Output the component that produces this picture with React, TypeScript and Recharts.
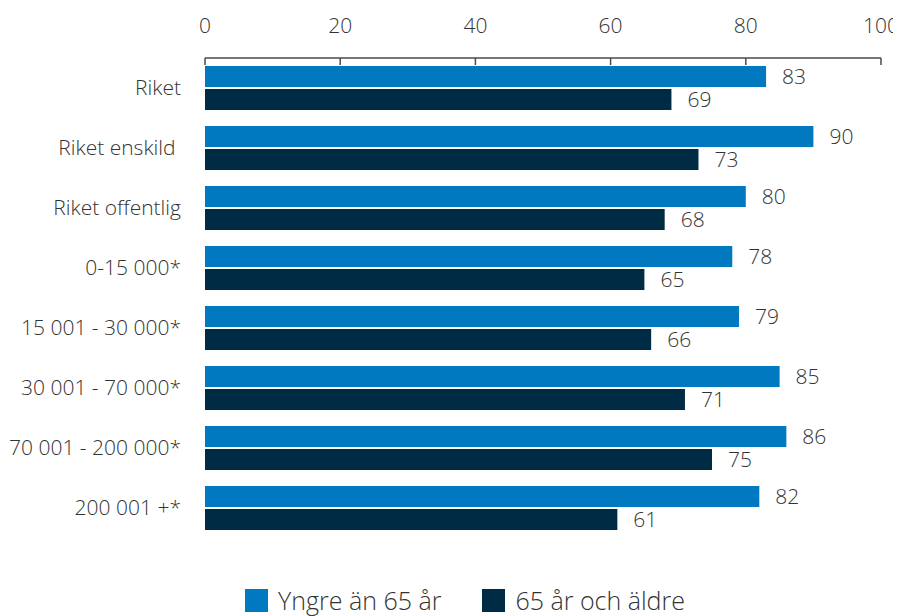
import { BarChart, Bar, XAxis, YAxis, Legend, LabelList } from 'recharts';

const categories = [
  'Riket',
  'Riket enskild\u00a0',
  'Riket offentlig',
  '0-15 000*',
  '15 001 - 30 000*',
  '30 001 - 70 000*',
  '70 001 - 200 000*',
  '200 001 +*',
];
const younger = [83, 90, 80, 78, 79, 85, 86, 82];
const older = [69, 73, 68, 65, 66, 71, 75, 61];
const xTicks = [0, 20, 40, 60, 80, 100];
const boundaryTicks = [0, 1, 2, 3, 4, 5, 6, 7, 8];

const seriesNames = ['Yngre än 65 år', '65 år och äldre'];
const BLUE = '#0079c1';
const NAVY = '#002b45';
const AXIS = '#4a4a4a';
const TEXT = '#333333';

const data = categories.map((name, i) => ({
  name,
  younger: younger[i],
  older: older[i],
}));

function LegendContent() {
  const items = [
    { label: seriesNames[0], color: BLUE },
    { label: seriesNames[1], color: NAVY },
  ];
  return (
    <div style={{ display: 'flex', height: 40, alignItems: 'flex-start', paddingTop: 3, boxSizing: 'border-box' }}>
      {items.map((it, i) => (
        <div key={it.label} style={{ display: 'flex', alignItems: 'center', marginLeft: i === 0 ? 0 : 41 }}>
          <span style={{ width: 23, height: 23, background: it.color, display: 'inline-block', marginRight: 10 }} />
          <span style={{ fontSize: 25, fontWeight: 300, color: TEXT, lineHeight: '23px' }}>{it.label}</span>
        </div>
      ))}
    </div>
  );
}

const tickStyle = { fill: TEXT, fontSize: 21, fontWeight: 300 };

export default function App() {
  return (
    <div style={{ fontFamily: '"Open Sans", sans-serif' }}>
      <style>{'html { overflow: hidden; }'}</style>
      <BarChart
        width={893}
        height={620}
        data={data}
        layout="vertical"
        margin={{ top: 0, right: 20, bottom: 50, left: 0 }}
        barCategoryGap={8}
        barGap={2}
      >
        <XAxis
          type="number"
          orientation="top"
          domain={[0, 100]}
          ticks={xTicks}
          height={50}
          stroke={AXIS}
          strokeWidth={1.5}
          tickSize={-7}
          tickMargin={32}
          tick={tickStyle}
          interval={0}
        />
        <YAxis
          yAxisId="grid"
          type="number"
          orientation="left"
          domain={[0, 8]}
          ticks={boundaryTicks}
          width={0}
          stroke={AXIS}
          strokeWidth={1.5}
          tickSize={5}
          tick={false}
          interval={0}
        />
        <YAxis
          yAxisId="cat"
          type="category"
          dataKey="name"
          width={197}
          axisLine={false}
          tickLine={false}
          tickMargin={18}
          tick={tickStyle}
          interval={0}
        />
        <Legend
          content={<LegendContent />}
          wrapperStyle={{ top: 578, left: 237, width: 640 }}
        />
        <Bar yAxisId="cat" dataKey="younger" name={seriesNames[0]} fill={BLUE} isAnimationActive={false}>
          <LabelList dataKey="younger" position="right" offset={16} fill={TEXT} fontSize={21} fontWeight={300} />
        </Bar>
        <Bar yAxisId="cat" dataKey="older" name={seriesNames[1]} fill={NAVY} isAnimationActive={false}>
          <LabelList dataKey="older" position="right" offset={16} fill={TEXT} fontSize={21} fontWeight={300} />
        </Bar>
      </BarChart>
    </div>
  );
}
